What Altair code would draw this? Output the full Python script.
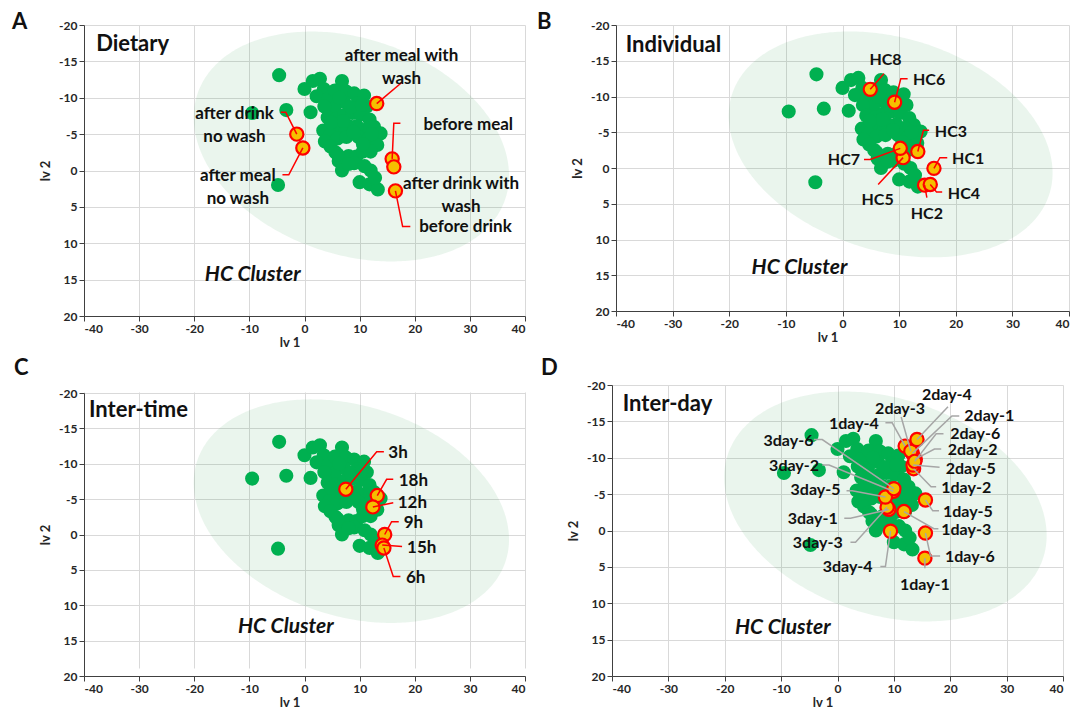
import altair as alt
import numpy as np
import pandas as pd

FONT = "Lato"
GREEN = "#00b050"
YELLOW = "#f5bf00"
RED = "#ff0000"
GRAY_LINE = "#a6a6a6"
ELL_COLOR = "#2ea04d"

# ---------------- shared HC cluster points (lv 1, lv 2) ----------------
green_x = [-4.6, -9.5, -3.3, 1.1, -4.8,
           0.0, 1.5, 2.8, 6.8, 3.5, 2.2, 4.3, 5.5, 7.5, 9.0, 10.8, 11.3, 9.6, 7.2, 5.4, 3.6,
           4.2, 5.8, 7.2, 8.7, 10.2, 11.8, 12.6, 13.8, 11.0, 9.5, 8.0, 6.5, 5.0, 3.4, 4.6, 6.0,
           7.6, 9.8, 11.5, 13.2, 3.7, 4.7,
           5.6, 6.2, 6.8, 8.0, 9.4, 10.6, 12.0, 9.0, 12.0, 10.0, 11.8, 13.3, 10.9, 12.8,
           6.3, 8.4, 10.4, 12.2, 7.0, 8.9, 4.8, 10.6, 6.0, 8.0]
green_y = [-13.1, -7.9, -8.3, -8.0, 2.0,
           -11.2, -12.3, -12.6, -12.3, -11.2, -10.2, -9.8, -11.0, -10.9, -10.6, -10.3, -8.8, -9.2, -9.4, -8.6, -8.8,
           -7.3, -7.1, -7.6, -7.9, -7.7, -7.0, -6.0, -5.1, -5.6, -6.1, -6.1, -5.9, -5.9, -5.5, -4.8, -4.4,
           -4.6, -4.6, -4.3, -3.5, -4.0, -3.3,
           -2.5, -1.3, 0.0, -2.0, -1.9, -2.6, -2.6, -1.0, 0.0, 1.6, 1.9, 2.6, -0.6, 1.0,
           -10.0, -8.7, -9.0, -5.0, -6.8, -5.3, -6.6, -3.6, -2.2, -0.9]

# ---------------- confidence ellipse parameters ----------------
ell_cx, ell_cy = 8.5, -3.3
ell_half_w, ell_half_h, ell_tilt = 28.6, 15.8, 4.0

x_ticks = [-40, -30, -20, -10, 0, 10, 20, 30, 40]
y_ticks = [-20, -15, -10, -5, 0, 5, 10, 15, 20]

# ---------------- Panel A : Dietary ----------------
A_names = ["after meal with\nwash", "after drink\nno wash", "after meal\nno wash",
           "before meal", "after drink with\nwash", "before drink"]
A_pt_x = [13.1, -1.4, -0.3, 15.9, 16.2, 16.5]
A_pt_y = [-9.2, -5.0, -3.1, -1.6, -0.5, 2.8]
A_lab_x = [17.6, -12.7, -12.1, 29.7, 28.4, 29.2]
A_lab_y = [-15.7, -7.8, 0.7, -6.3, 1.9, 7.8]
A_lab_align = ["center"] * 6
A_leaders = [[(17.8, -12.2)],
             [(-3.4, -8.0), (-4.3, -8.0)],
             [(-2.85, 0.6), (-4.0, 0.6)],
             [(16.2, -6.5), (17.4, -6.5)],
             [],
             [(17.8, 7.7), (19.2, 7.7)]]

# ---------------- Panel B : Individual ----------------
B_names = ["HC1", "HC2", "HC3", "HC4", "HC5", "HC6", "HC7", "HC8"]
B_pt_x = [16.15, 14.5, 13.3, 15.5, 10.7, 9.2, 10.2, 4.9]
B_pt_y = [0.05, 2.4, -2.3, 2.3, -1.45, -9.2, -2.75, -11.0]
B_lab_x = [19.35, 14.9, 16.3, 18.6, 6.2, 12.45, 0.25, 7.6]
B_lab_y = [-1.2, 6.4, -5.1, 3.7, 4.5, -12.3, -1.1, -15.1]
B_lab_align = ["left", "center", "left", "left", "center", "left", "center", "center"]
B_leaders = [[(17.2, -1.45), (18.5, -1.45)],
             [(14.9, 4.15)],
             [(14.3, -5.27), (15.3, -5.27)],
             [(16.6, 3.35), (17.6, 3.35)],
             [(6.3, 2.3)],
             [(10.3, -12.5), (11.5, -12.5)],
             [(4.9, -1.2), (3.8, -1.2)],
             [(7.33, -13.2)]]

# ---------------- Panel C : Inter-time ----------------
C_names = ["3h", "18h", "12h", "9h", "15h", "6h"]
C_pt_x = [7.5, 13.2, 12.4, 14.55, 14.1, 14.4]
C_pt_y = [-6.4, -5.5, -3.9, 0.0, 1.5, 1.9]
C_lab_x = [15.2, 17.1, 16.9, 18.0, 18.6, 18.4]
C_lab_y = [-11.5, -7.6, -4.5, -1.6, 1.85, 6.2]
C_lab_align = ["left"] * 6
C_leaders = [[(13.1, -11.7), (14.4, -11.7)],
             [(14.9, -7.8), (16.1, -7.8)],
             [(16.1, -4.5)],
             [(15.8, -1.8), (17.1, -1.8)],
             [(17.7, 1.7)],
             [(16.1, 5.95), (17.4, 5.95)]]

# ---------------- Panel D : Inter-day ----------------
D_names = ["1day-1", "1day-2", "1day-3", "1day-4", "1day-5", "1day-6",
           "2day-1", "2day-2", "2day-3", "2day-4", "2day-5", "2day-6",
           "3day-1", "3day-2", "3day-3", "3day-4", "3day-5", "3day-6"]
D_pt_x = [15.5, 13.5, 11.8, 12.0, 15.6, 15.6,
          13.3, 13.8, 13.0, 14.1, 13.4, 13.7,
          9.1, 9.9, 8.8, 9.4, 8.5, 10.0]
D_pt_y = [3.8, -8.5, -2.6, -11.6, -4.2, 0.35,
          -10.6, -9.8, -10.9, -12.5, -9.0, -9.5,
          -2.9, -5.4, -3.2, 0.1, -4.6, -5.75]
D_lab_x = [15.5, 18.4, 18.4, 2.9, 18.7, 19.05,
           22.5, 19.55, 11.1, 19.4, 19.2, 20.0,
           -4.4, -7.7, -3.5, 1.8, -3.9, -8.7]
D_lab_y = [7.5, -5.9, -0.1, -14.6, -2.6, 3.7,
           -15.7, -11.1, -16.7, -18.6, -8.5, -13.3,
           -1.6, -8.9, 1.7, 5.0, -5.55, -12.3]
D_lab_align = ["center", "left", "left", "center", "left", "left",
               "left", "left", "center", "center", "left", "left",
               "center", "center", "center", "center", "center", "center"]
D_leaders = [[(15.5, 5.2)],
             [(16.6, -6.0), (17.5, -6.0)],
             [(17.1, -0.25), (17.9, -0.25)],
             [(9.7, -14.8), (8.5, -14.8)],
             [(16.9, -2.7), (18.0, -2.7)],
             [(16.5, 3.5), (18.2, 3.5)],
             [(20.3, -15.75), (21.6, -15.75)],
             [(17.2, -11.2), (18.4, -11.2)],
             [(11.3, -15.6)],
             [(19.6, -17.0)],
             [(18.1, -8.7)],
             [(17.5, -13.3), (18.8, -13.3)],
             [(2.3, -1.7), (1.2, -1.7)],
             [(-1.5, -9.0), (-2.7, -9.0)],
             [(3.2, 1.6), (2.3, 1.6)],
             [(8.5, 4.95), (7.6, 4.95)],
             [(2.6, -5.45), (1.6, -5.45)],
             [(-2.7, -12.5), (-4.2, -12.5)]]

PANELS = [
    dict(letter="A", title="Dietary", title_x=-37.8, title_y=-17.4, hc_x=-9.4, hc_y=14.3,
         names=A_names, px=A_pt_x, py=A_pt_y, lx=A_lab_x, ly=A_lab_y, align=A_lab_align,
         leaders=A_leaders, line=RED, fs=17, w=441, h=291, top=0, let_x=-72, let_y=-3),
    dict(letter="B", title="Individual", title_x=-38.3, title_y=-17.2, hc_x=-7.6, hc_y=14.0,
         names=B_names, px=B_pt_x, py=B_pt_y, lx=B_lab_x, ly=B_lab_y, align=B_lab_align,
         leaders=B_leaders, line=RED, fs=16, w=453, h=286, top=0, let_x=-79, let_y=-3),
    dict(letter="C", title="Inter-time", title_x=-39.1, title_y=-17.6, hc_x=-3.4, hc_y=13.1,
         names=C_names, px=C_pt_x, py=C_pt_y, lx=C_lab_x, ly=C_lab_y, align=C_lab_align,
         leaders=C_leaders, line=RED, fs=17, w=441, h=291, top=8, let_x=-70, let_y=-17),
    dict(letter="D", title="Inter-day", title_x=-38.1, title_y=-17.4, hc_x=-9.7, hc_y=13.4,
         names=D_names, px=D_pt_x, py=D_pt_y, lx=D_lab_x, ly=D_lab_y, align=D_lab_align,
         leaders=D_leaders, line=GRAY_LINE, fs=16, w=451, h=291, top=0, let_x=-71, let_y=-17),
]


def ellipse_frame():
    sxx = ell_half_w ** 2
    syy = ell_half_h ** 2
    sxy = ell_tilt * ell_half_w
    t = np.linspace(0, np.pi, 181)
    dx = -ell_half_w * np.cos(t)
    mid = ell_cy + sxy / sxx * dx
    half = np.sqrt(syy - sxy ** 2 / sxx) * np.sqrt(np.clip(1 - dx ** 2 / sxx, 0, None))
    return pd.DataFrame({"x": ell_cx + dx, "y": mid - half, "y2": mid + half})


def make_panel(cfg):
    w, h, top = cfg["w"], cfg["h"], cfg["top"]
    xaxis = alt.Axis(values=x_ticks, titleX=w / 2 - 15, titlePadding=2,
                     labelExpr="toString(datum.value)")
    yaxis = alt.Axis(values=y_ticks, titlePadding=6, labelExpr="toString(datum.value)")
    xs = alt.Scale(domain=[-40, 40], nice=False, zero=False)
    ys = alt.Scale(domain=[-20, 20], nice=False, zero=False, range=[top, h])

    def X(f):
        return alt.X(f + ":Q", scale=xs, axis=xaxis, title="lv 1")

    def Y(f):
        return alt.Y(f + ":Q", scale=ys, axis=yaxis, title="lv 2")

    ell = alt.Chart(ellipse_frame()).mark_area(color=ELL_COLOR, opacity=0.1).encode(
        x=X("x"), y=Y("y"), y2=alt.Y2("y2"))

    green = alt.Chart(pd.DataFrame({"x": green_x, "y": green_y})).mark_circle(
        size=200, color=GREEN, opacity=1).encode(x=X("x"), y=Y("y"))

    pts = pd.DataFrame({"name": cfg["names"], "x": cfg["px"], "y": cfg["py"]})
    yellow = alt.Chart(pts).mark_circle(
        size=175, fill=YELLOW, stroke=RED, strokeWidth=2.2, opacity=1).encode(x=X("x"), y=Y("y"))

    rows = []
    for name, px, py, verts in zip(cfg["names"], cfg["px"], cfg["py"], cfg["leaders"]):
        if not verts:
            continue
        rows.append({"name": name, "seq": 0, "x": px, "y": py})
        for i, (vx, vy) in enumerate(verts):
            rows.append({"name": name, "seq": i + 1, "x": vx, "y": vy})
    lead = alt.Chart(pd.DataFrame(rows)).mark_line(
        color=cfg["line"], strokeWidth=1.5).encode(
        x=X("x"), y=Y("y"), detail="name:N", order="seq:Q")

    labs = pd.DataFrame({"name": cfg["names"], "x": cfg["lx"], "y": cfg["ly"], "al": cfg["align"]})
    lab_layers = []
    for al in ["left", "center"]:
        sub = labs[labs["al"] == al]
        if len(sub) == 0:
            continue
        lab_layers.append(alt.Chart(sub).mark_text(
            align=al, baseline="middle", font=FONT, fontWeight="bold", fontSize=cfg["fs"],
            lineBreak="\n", lineHeight=23, color="#111111").encode(
            x=X("x"), y=Y("y"), text="name:N"))

    ttl = alt.Chart(pd.DataFrame({"x": [cfg["title_x"]], "y": [cfg["title_y"]], "t": [cfg["title"]]})).mark_text(
        align="left", baseline="middle", font=FONT, fontWeight="bold", fontSize=22, color="#111111").encode(
        x=X("x"), y=Y("y"), text="t:N")

    hc = alt.Chart(pd.DataFrame({"x": [cfg["hc_x"]], "y": [cfg["hc_y"]], "t": ["HC Cluster"]})).mark_text(
        align="center", baseline="middle", font=FONT, fontWeight="bold", fontStyle="italic",
        fontSize=21, color="#111111").encode(x=X("x"), y=Y("y"), text="t:N")

    letter = alt.Chart(pd.DataFrame({"t": [cfg["letter"]]})).mark_text(
        align="left", baseline="middle", font=FONT, fontWeight="bold", fontSize=22, color="#111111").encode(
        x=alt.value(cfg["let_x"]), y=alt.value(cfg["let_y"]), text="t:N")

    layers = [ell, green, yellow, lead, *lab_layers, ttl, hc, letter]
    if top > 0:
        # blank strip above the top gridline (plot area starts lower in this panel)
        strip = alt.Chart(pd.DataFrame({"t": [""]})).mark_rect(color="white").encode(
            x=alt.value(0), x2=alt.value(w + 1), y=alt.value(-1), y2=alt.value(top - 0.5))
        layers.append(strip)
    return alt.layer(*layers).properties(width=w, height=h)


pA, pB, pC, pD = [make_panel(c) for c in PANELS]
row1 = alt.hconcat(pA, pB, spacing=11)
row2 = alt.hconcat(pC, pD, spacing=15)

chart = alt.vconcat(row1, row2, spacing=8).properties(
    padding={"left": 4, "top": 3, "right": 0, "bottom": 0}
).configure_view(strokeWidth=0).configure_axis(
    grid=True, gridColor="#d9d9d9", gridWidth=1,
    domainColor="#404040", tickColor="#404040", tickSize=5,
    labelFont=FONT, labelFontWeight="bold", labelFontSize=12, labelColor="#262626", labelPadding=2,
    titleFont=FONT, titleFontWeight="bold", titleFontSize=13, titleColor="#262626",
).configure_concat(spacing=10)

chart.save("out.html", embed_options={"renderer": "svg", "actions": False})
